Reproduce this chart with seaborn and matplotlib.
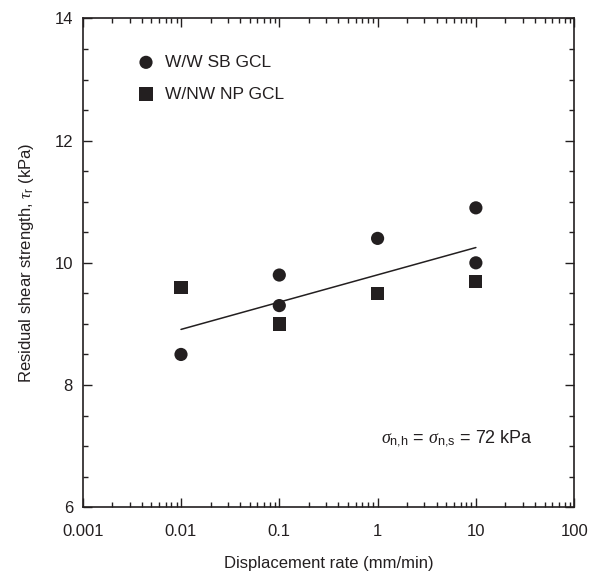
import matplotlib
matplotlib.use("Agg")
import matplotlib.pyplot as plt
import seaborn as sns
import numpy as np
from matplotlib.ticker import LogLocator, MultipleLocator, FixedLocator, NullFormatter

# Data
sb_rate = [0.01, 0.1, 0.1, 1, 10, 10]
sb_tau = [8.5, 9.8, 9.3, 10.4, 10.9, 10.0]
np_rate = [0.01, 0.1, 1, 10]
np_tau = [9.6, 9.0, 9.5, 9.7]
trend_rate = [0.01, 10]
trend_tau = [8.91, 10.25]
x_ticks = [0.001, 0.01, 0.1, 1, 10, 100]
x_ticklabels = ["0.001", "0.01", "0.1", "1", "10", "100"]
y_ticks = [6, 8, 10, 12, 14]

sns.set_theme(style="ticks")
plt.rcParams['font.family'] = ['Liberation Sans', 'DejaVu Sans']
plt.rcParams['mathtext.fontset'] = 'custom'
plt.rcParams['mathtext.rm'] = 'Liberation Sans'
plt.rcParams['mathtext.it'] = 'Liberation Serif:italic'
plt.rcParams['mathtext.sf'] = 'Liberation Sans'

ink = '#231f20'
fig = plt.figure(figsize=(5.95, 5.77), dpi=100)
ax = fig.add_axes([0.139, 0.121, 0.826, 0.847])

sns.lineplot(x=trend_rate, y=trend_tau, ax=ax, color=ink, linewidth=1.1)
sns.scatterplot(x=sb_rate, y=sb_tau, ax=ax, marker='o', s=90, color=ink,
                edgecolor='none', label='W/W SB GCL')
sns.scatterplot(x=np_rate, y=np_tau, ax=ax, marker='s', s=90, color=ink,
                edgecolor='none', label='W/NW NP GCL')

ax.set_xscale('log')
ax.set_xlim(0.001, 100)
ax.set_ylim(6, 14)
ax.xaxis.set_major_locator(FixedLocator(x_ticks))
ax.set_xticklabels(x_ticklabels)
ax.xaxis.set_minor_locator(LogLocator(base=10, subs=np.arange(2, 10), numticks=20))
ax.xaxis.set_minor_formatter(NullFormatter())
ax.set_yticks(y_ticks)
ax.yaxis.set_minor_locator(MultipleLocator(0.5))

ax.tick_params(which='both', direction='in', top=True, right=True, colors=ink,
               labelsize=12, width=1.0)
ax.tick_params(which='major', length=6.5)
ax.tick_params(axis='x', which='major', pad=12)
ax.tick_params(axis='y', which='major', pad=7)
ax.tick_params(which='minor', length=3.5)
for sp in ax.spines.values():
    sp.set_linewidth(1.2)
    sp.set_color(ink)

ax.set_xlabel('Displacement rate (mm/min)', fontsize=12, color=ink, labelpad=12)
ax.set_ylabel(r'Residual shear strength, $\tau_{\mathrm{r}}$ (kPa)', fontsize=12,
              color=ink, labelpad=13)

ax.text(0.762, 0.14, r'$\sigma_{\mathrm{n{,}h}}$ = $\sigma_{\mathrm{n{,}s}}$ = 72 kPa',
        transform=ax.transAxes, ha='center', va='center', fontsize=13, color=ink)

leg = ax.legend(loc='upper left', bbox_to_anchor=(0.097, 0.94), frameon=False,
                fontsize=12.5, handletextpad=0.6, labelspacing=0.95,
                borderaxespad=0, handlelength=1.0, markerscale=1.0)
for t in leg.get_texts():
    t.set_color(ink)

fig.savefig('out.png', dpi=100)
